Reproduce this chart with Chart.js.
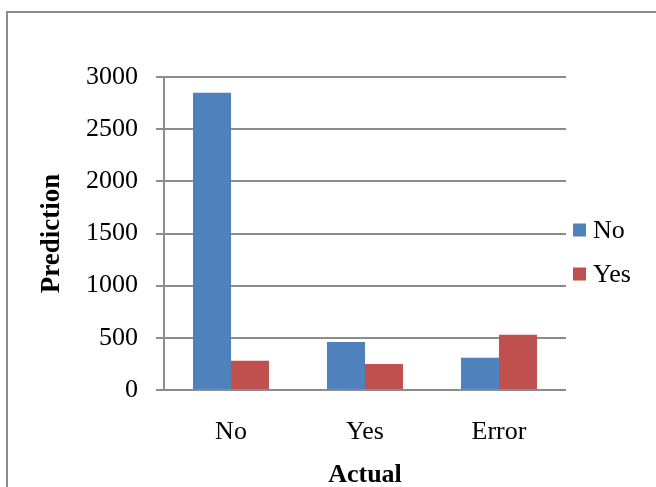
<!DOCTYPE html>
<html>
<head>
<meta charset="utf-8">
<script src="https://cdn.jsdelivr.net/npm/chart.js@4.4.1/dist/chart.umd.min.js"></script>
<style>
  html, body { margin: 0; padding: 0; background: #fff; overflow: hidden; }
  #frame { position: absolute; left: 6px; top: 11px; width: 720px; height: 600px; border: 2px solid #8c8c8c; }
  #wrap { position: absolute; left: 0; top: 0; width: 656px; height: 491px; }
</style>
</head>
<body>
<div id="frame"></div>
<div id="wrap"><canvas id="chart"></canvas></div>
<script>
// categories (actual) and series (prediction counts)
const categories = ["No", "Yes", "Error"];
const predNo = [2850, 460, 310];
const predYes = [280, 250, 530];
const yTicks = [0, 500, 1000, 1500, 2000, 2500, 3000];

const FONT = '"Liberation Serif", "Times New Roman", serif';
const GRID = '#8c8c8c';

// legend drawn to the right of the plot area, from dataset labels/colors
const sideLegend = {
  id: 'sideLegend',
  afterDraw(chart) {
    const ctx = chart.ctx;
    const x = chart.chartArea.right + 7;
    ctx.save();
    ctx.font = '26px ' + FONT;
    ctx.textBaseline = 'middle';
    ctx.textAlign = 'left';
    chart.data.datasets.forEach((ds, i) => {
      const cy = 230 + i * 44;
      ctx.fillStyle = ds.backgroundColor;
      ctx.fillRect(x, cy - 6.5, 13, 13);
      ctx.fillStyle = '#000';
      ctx.fillText(ds.label, x + 20, cy + 1);
    });
    ctx.restore();
  }
};

const ctx = document.getElementById('chart').getContext('2d');
new Chart(ctx, {
  type: 'bar',
  data: {
    labels: categories,
    datasets: [
      { label: 'No', data: predNo, backgroundColor: '#4F81BD' },
      { label: 'Yes', data: predYes, backgroundColor: '#C0504D' }
    ]
  },
  options: {
    responsive: true,
    maintainAspectRatio: false,
    animation: false,
    datasets: { bar: { categoryPercentage: 0.567, barPercentage: 1 } },
    layout: { padding: { top: 77, right: 90, left: 36, bottom: 0 } },
    scales: {
      x: {
        grid: { display: false, drawTicks: false, tickLength: 0 },
        border: { display: false },
        ticks: { color: '#000', font: { family: FONT, size: 26 }, padding: 27 },
        title: { display: true, text: 'Actual', color: '#000', padding: 0,
                 font: { family: FONT, size: 26, weight: 'bold' } },
        afterFit: (s) => { s.height = 101; }
      },
      y: {
        min: 0,
        max: 3000,
        afterBuildTicks: (s) => { s.ticks = yTicks.map(v => ({ value: v })); },
        grid: { color: GRID, lineWidth: 2, tickLength: 8 },
        border: { display: true, color: GRID, width: 2 },
        ticks: { color: '#000', font: { family: FONT, size: 26 }, padding: 18,
                 callback: (v) => String(v) },
        title: { display: true, text: 'Prediction', color: '#000', padding: 0,
                 font: { family: FONT, size: 27, weight: 'bold' } },
        afterFit: (s) => { s.width = 128; }
      }
    },
    plugins: {
      legend: { display: false },
      tooltip: { enabled: false }
    }
  },
  plugins: [sideLegend]
});
</script>
</body>
</html>
